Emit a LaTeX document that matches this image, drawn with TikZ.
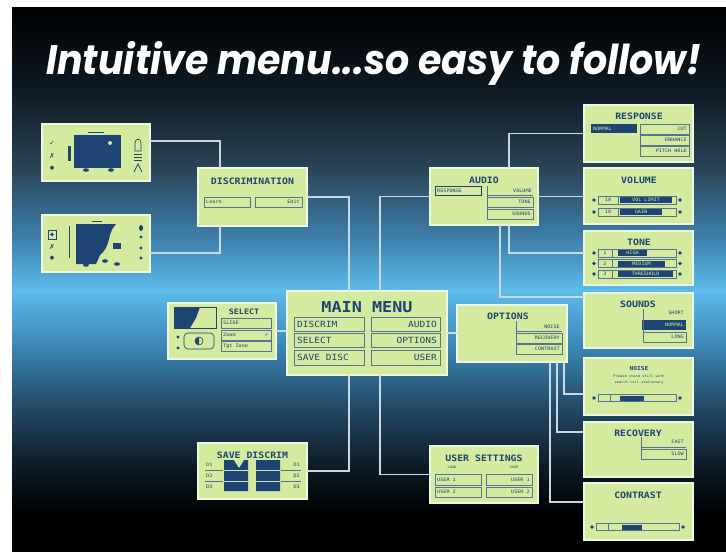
\documentclass[tikz,border=0pt]{standalone}
\usepackage{fontspec}
\usetikzlibrary{calc,fit}
\newfontfamily\lcdf{DejaVu Sans Mono}[FakeStretch=1.12]
\newfontfamily\titlef{Poppins}
\newfontfamily\symf{DejaVu Sans}
\definecolor{lcdg}{HTML}{D3EA9F}
\definecolor{lcdedge}{HTML}{EEF7E2}
\definecolor{navy}{HTML}{1E4473}
\definecolor{connc}{HTML}{CAD8E0}
\definecolor{bgB}{HTML}{101C26}
\definecolor{bgC}{HTML}{2A4658}
\definecolor{bgD}{HTML}{3F82AE}
\definecolor{bgE}{HTML}{5CBCEA}
\definecolor{bgF}{HTML}{3F8CBC}
\definecolor{bgG}{HTML}{24506E}
\definecolor{bgH}{HTML}{0E1C28}
\tikzset{
  lcd/.style={fill=lcdg, draw=lcdedge, line width=1.3pt, inner sep=0pt, outer sep=0pt},
  conn/.style={draw=connc, line width=1.4pt},
  ttl/.style={text=navy, inner sep=0pt, font=\lcdf\bfseries\fontsize{8.8}{8.8}\selectfont},
  sm/.style={text=navy, inner sep=0pt, font=\lcdf\fontsize{4.6}{4.6}\selectfont},
  tiny/.style={text=navy, inner sep=0pt, font=\lcdf\fontsize{3.3}{3.3}\selectfont},
  smw/.style={sm, text=lcdg},
  rowb/.style={draw=navy!75, line width=0.5pt},
  big/.style={text=navy, inner sep=0pt, font=\lcdf\bfseries\fontsize{15}{15}\selectfont},
  mid/.style={text=navy, inner sep=0pt, font=\lcdf\fontsize{8.5}{8.5}\selectfont},
  sym/.style={text=navy, inner sep=0pt, font=\symf\fontsize{7}{7}\selectfont},
}
\begin{document}
\begin{tikzpicture}[x=1pt,y=-1pt]
\useasboundingbox (0,0) rectangle (726,552);
\fill[white] (0,0) rectangle (726,552);
\fill[black] (12,7) rectangle (726,552);
% background gradient
\shade[top color=black, bottom color=bgB] (12,7) rectangle (726,95.5);
\shade[top color=bgB, bottom color=bgC] (12,95) rectangle (726,170.5);
\shade[top color=bgC, bottom color=bgD] (12,170) rectangle (726,240.5);
\shade[top color=bgD, bottom color=bgE] (12,240) rectangle (726,290.5);
\shade[top color=bgE, bottom color=bgF] (12,290) rectangle (726,340.5);
\shade[top color=bgF, bottom color=bgG] (12,340) rectangle (726,400.5);
\shade[top color=bgG, bottom color=bgH] (12,400) rectangle (726,465.5);
\shade[top color=bgH, bottom color=black] (12,465) rectangle (726,515.5);
\fill[black] (12,515) rectangle (726,552);

% title
\node[anchor=base west, inner sep=0pt, text=white] (title) at (46,74)
  {\resizebox{655pt}{33pt}{\titlef\bfseries\itshape Intuitive menu...so easy to follow!}};

% boxes
\node[lcd, fit={(42,124) (150,181)}] (tl1) {};
\node[lcd, fit={(42,215) (150,272)}] (tl2) {};
\node[lcd, fit={(198,168) (307,226)}] (disc) {};
\node[lcd, fit={(430,168) (538,225)}] (audio) {};
\node[lcd, fit={(584,105) (693,162)}] (resp) {};
\node[lcd, fit={(584,168) (693,224)}] (vol) {};
\node[lcd, fit={(584,231) (693,285)}] (tone) {};
\node[lcd, fit={(584,293) (693,348)}] (sounds) {};
\node[lcd, fit={(584,358) (693,415)}] (noise) {};
\node[lcd, fit={(584,422) (693,477)}] (recov) {};
\node[lcd, fit={(584,483) (693,540)}] (contr) {};
\node[lcd, fit={(287,291) (447,375)}] (main) {};
\node[lcd, fit={(168,303) (276,359)}] (select) {};
\node[lcd, fit={(457,305) (567,362)}] (options) {};
\node[lcd, fit={(198,443) (307,499)}] (savedisc) {};
\node[lcd, fit={(430,446) (538,503)}] (user) {};

% connectors
\draw[conn] ($(tl1.north east)+(0,17)$) -| ($(disc.north west)+(22,0)$);
\draw[conn] ($(tl2.north east)+(0,38)$) -| ($(disc.south west)+(22,0)$);
\draw[conn] (disc.east) -| ($(main.north west)+(62,0)$);
\draw[conn] ($(main.south west)+(62,0)$) |- (savedisc.east);
\draw[conn] (audio.west) -| ($(main.north west)+(93,0)$);
\draw[conn] ($(main.south west)+(93,0)$) |- (user.west);
\draw[conn] (select.east) -- (select.east -| main.west);
\draw[conn] (main.east) -- (main.east -| options.west);
\draw[conn] ($(audio.north west)+(79,0)$) |- (resp.west);
\draw[conn] (audio.east) -- (audio.east -| vol.west);
\draw[conn] ($(audio.south west)+(79,0)$) |- ($(tone.north west)+(0,22)$);
\draw[conn] ($(audio.south west)+(70,0)$) |- ($(sounds.north west)+(0,4)$);
\draw[conn] ($(options.south west)+(107,0)$) |- ($(noise.north west)+(0,36)$);
\draw[conn] ($(options.south west)+(100,0)$) |- ($(recov.north west)+(0,10)$);
\draw[conn] ($(options.south west)+(93,0)$) |- ($(contr.north west)+(0,19)$);

% ---- TL1 screen
\node[sym] (tl1a) at (52,143) {✓};
\node[sym] (tl1b) at (52,156) {✗};
\node[sym, font=\symf\fontsize{5}{5}\selectfont] (tl1c) at (52,168) {●};
\fill[navy] (68,146) rectangle (71,161);
\fill[navy] (74,135) rectangle (121,168);
\fill[lcdg] (110,143) circle[radius=2pt];
\draw[navy, line width=0.8pt] (88,132) -- (104,132);
\fill[navy] (86,170) ellipse[x radius=3pt, y radius=1.8pt];
\fill[navy] (111,170) ellipse[x radius=3pt, y radius=1.8pt];
\draw[navy, line width=0.7pt] (135,151) -- (135,143) .. controls (135,138) and (141,138) .. (141,143) -- (141,151) -- cycle;
\draw[navy, line width=0.6pt] (134,154) -- (142,154) (134,157) -- (142,157) (134,160) -- (142,160);
\draw[navy, line width=0.7pt] (134,172) -- (138,164) -- (142,172);

% ---- TL2 screen
\draw[navy, line width=0.6pt] (48,230) rectangle (56,239);
\fill[navy] (52,234.5) circle[radius=1.8pt];
\node[sym] (tl2b) at (52,247) {✗};
\node[sym, font=\symf\fontsize{5}{5}\selectfont] (tl2c) at (52,258) {●};
\draw[navy, line width=0.6pt] (69,226) -- (69,258);
\fill[navy] (76,224) -- (116,224) .. controls (106,235) and (112,245) .. (100,255) -- (96,264) -- (76,264) -- cycle;
\fill[navy] (113,243) rectangle (121,249);
\draw[navy, line width=0.8pt] (92,221) -- (102,221);
\fill[navy] (86,265) ellipse[x radius=3pt, y radius=1.8pt];
\fill[navy] (105,261) ellipse[x radius=3pt, y radius=1.8pt];
\fill[navy] (117,264) ellipse[x radius=3pt, y radius=1.8pt];
\fill[navy] (141,228) ellipse[x radius=2pt, y radius=3pt];
\fill[navy] (141,237) circle[radius=1.6pt];
\fill[navy] (141,248) circle[radius=1.6pt];
\fill[navy] (141,258) circle[radius=1.6pt];

% ---- DISCRIMINATION
\node[ttl] (discT) at (252.5,181) {DISCRIMINATION};
\draw[rowb] (204,197) rectangle (250,207) (255,197) rectangle (302,207);
\node[sm, anchor=west] (discL) at (206,202) {Learn};
\node[sm, anchor=east] (discE) at (300,202) {Edit};

% ---- AUDIO
\node[ttl] (audT) at (484,180) {AUDIO};
\draw[navy, line width=1pt] (435,186) rectangle (481,195);
\node[sm, anchor=west] (audR) at (437,190.5) {RESPONSE};
\draw[rowb] (487,186) -- (487,219) (487,195) -- (533,195) (487,197) rectangle (533,207) (487,209) rectangle (533,219);
\node[sm, anchor=east] (audV) at (532,190.5) {VOLUME};
\node[sm, anchor=east] (audTo) at (531,202) {TONE};
\node[sm, anchor=east] (audS) at (531,214) {SOUNDS};

% ---- RESPONSE
\node[ttl] (respT) at (639,116) {RESPONSE};
\fill[navy] (591,124) rectangle (637,133);
\node[smw, anchor=west] (respN) at (593,128.5) {NORMAL};
\draw[rowb] (640,124) rectangle (689,134) (640,135) rectangle (689,145) (640,146) rectangle (689,156);
\node[sm, anchor=east] (respC) at (687,129) {CUT};
\node[sm, anchor=east] (respE) at (687,140) {ENHANCE};
\node[sm, anchor=east] (respP) at (687,151) {PITCH HOLD};

% ---- VOLUME
\node[ttl] (volT) at (639,180) {VOLUME};
\foreach \yy/\xe/\lab [count=\i] in {200/672/VOL LIMIT, 212/662/GAIN}{
  \fill[navy] (594,\yy) circle[radius=1.8pt] (680,\yy) circle[radius=1.8pt];
  \draw[rowb] (598,\yy-4) rectangle (676,\yy+4) (618,\yy-4) -- (618,\yy+4);
  \node[sm] (volN\i) at (608,\yy) {10};
  \fill[navy] (620,\yy-3) rectangle (\xe,\yy+3);
  \node[smw] (volL\i) at ({(620+\xe)/2},\yy) {\lab};
}

% ---- TONE
\node[ttl] (toneT) at (639,242) {TONE};
\foreach \yy/\xe/\lab [count=\i] in {253/647/HIGH, 263.5/665/MEDIUM, 274/673/THRESHOLD}{
  \fill[navy] (594,\yy) circle[radius=1.8pt] (680,\yy) circle[radius=1.8pt];
  \draw[rowb] (598,\yy-4) rectangle (676,\yy+4) (612,\yy-4) -- (612,\yy+4);
  \node[sm] (toneN\i) at (605,\yy) {\i};
  \fill[navy] (618,\yy-3) rectangle (\xe,\yy+3);
  \node[smw] (toneL\i) at ({(618+\xe)/2},\yy) {\lab};
}

% ---- SOUNDS
\node[ttl] (sndT) at (638,304) {SOUNDS};
\node[sm, anchor=east] (sndS) at (684,313) {SHORT};
\fill[navy] (642,320) rectangle (686,330);
\node[smw, anchor=east] (sndN) at (684,325) {NORMAL};
\draw[rowb] (643,309) -- (643,342) (643,332) rectangle (686,342);
\node[sm, anchor=east] (sndL) at (684,337) {LONG};

% ---- NOISE
\node[ttl, font=\lcdf\bfseries\fontsize{5.5}{5.5}\selectfont] (noiT) at (639,368) {NOISE};
\node[tiny] (noi1) at (639,376) {Please stand still with};
\node[tiny] (noi2) at (639,382.5) {search coil stationary};
\fill[navy] (594,398) circle[radius=1.8pt] (680,398) circle[radius=1.8pt];
\draw[rowb] (598,394.5) rectangle (676,401.5) (610,394.5) -- (610,401.5);
\fill[navy] (620,395.5) rectangle (644,400.5);

% ---- RECOVERY
\node[ttl] (recT) at (638,433) {RECOVERY};
\draw[rowb] (641,437) -- (641,459) (641,447) -- (686,447) (641,449) rectangle (686,459);
\node[sm, anchor=east] (recF) at (684,442) {FAST};
\node[sm, anchor=east] (recS) at (684,454) {SLOW};

% ---- CONTRAST
\node[ttl] (conT) at (638,495) {CONTRAST};
\fill[navy] (592,527) circle[radius=1.8pt] (683,527) circle[radius=1.8pt];
\draw[rowb] (596,523.5) rectangle (679,530.5) (608,523.5) -- (608,530.5);
\fill[navy] (622,524.5) rectangle (642,529.5);

% ---- MAIN MENU
\node[big] (mmT) at (367,307) {MAIN MENU};
\draw[rowb, line width=0.7pt] (294,317) rectangle (364,331) (294,333) rectangle (364,347) (294,350) rectangle (364,365);
\draw[rowb, line width=0.7pt] (371,317) rectangle (440,331) (371,333) rectangle (440,347) (371,350) rectangle (440,365);
\node[mid, anchor=west] (mm1) at (297,324) {DISCRIM};
\node[mid, anchor=west] (mm2) at (297,340) {SELECT};
\node[mid, anchor=west] (mm3) at (297,357.5) {SAVE DISC};
\node[mid, anchor=east] (mm4) at (437,324) {AUDIO};
\node[mid, anchor=east] (mm5) at (437,340) {OPTIONS};
\node[mid, anchor=east] (mm6) at (437,357.5) {USER};

% ---- SELECT
\draw[navy, line width=0.6pt] (174,307) rectangle (216,328);
\fill[navy] (174,307) -- (200,307) -- (196,318) -- (190,328) -- (174,328) -- cycle;
\fill[navy] (178,337) circle[radius=1.6pt] (178,348) circle[radius=1.6pt];
\draw[navy, line width=0.6pt, rounded corners=4pt] (184,333) rectangle (214,349);
\draw[navy, line width=0.6pt] (199,341) circle[radius=4pt];
\fill[navy] (199,337) arc[start angle=90, end angle=270, radius=4pt] -- cycle;
\node[ttl, font=\lcdf\bfseries\fontsize{7.5}{7.5}\selectfont] (selT) at (244,312) {SELECT};
\draw[rowb] (221,318) rectangle (271,328) (221,330) rectangle (271,340) (221,341) rectangle (271,351);
\node[sm, anchor=west] (sel1) at (223,323) {SLIDE};
\node[sm, anchor=west] (sel2) at (223,335) {Zoom};
\node[sym, font=\symf\fontsize{5}{5}\selectfont] (sel2c) at (267,335) {✓};
\node[sm, anchor=west] (sel3) at (223,346) {Tgt Zone};

% ---- OPTIONS
\node[ttl] (optT) at (508,316) {OPTIONS};
\draw[rowb] (516,321) -- (516,354) (516,331) -- (562,331) (516,333) rectangle (562,343) (516,344) rectangle (562,354);
\node[sm, anchor=east] (opt1) at (560,326.5) {NOISE};
\node[sm, anchor=east] (opt2) at (560,338) {RECOVERY};
\node[sm, anchor=east] (opt3) at (560,349) {CONTRAST};

% ---- SAVE DISCRIM
\node[ttl] (sdT) at (252.5,455) {SAVE DISCRIM};
\fill[navy] (224,460) rectangle (248,491) (256,460) rectangle (280,491);
\fill[lcdg] (234,460) -- (244,460) -- (239,468) -- cycle;
\draw[lcdg, line width=0.6pt] (224,470.5) -- (248,470.5) (224,481) -- (248,481) (256,470.5) -- (280,470.5) (256,481) -- (280,481);
\draw[rowb] (205,470.5) -- (223,470.5) (205,481) -- (223,481) (281,470.5) -- (301,470.5) (281,481) -- (301,481);
\node[sm, anchor=west] (sd1) at (206,465) {D1};
\node[sm, anchor=west] (sd2) at (206,476) {D2};
\node[sm, anchor=west] (sd3) at (206,487) {D3};
\node[sm, anchor=east] (sd4) at (300,465) {D1};
\node[sm, anchor=east] (sd5) at (300,476) {D2};
\node[sm, anchor=east] (sd6) at (300,487) {D3};

% ---- USER SETTINGS
\node[ttl] (usT) at (484,458) {USER SETTINGS};
\node[tiny] (usL) at (452,467) {LOAD};
\node[tiny] (usS) at (514,467) {SAVE};
\draw[rowb] (435,474) rectangle (481,485) (435,487) rectangle (481,497) (486,474) rectangle (532,485) (486,487) rectangle (532,497);
\node[sm, anchor=west] (us1) at (437,479.5) {USER 1};
\node[sm, anchor=west] (us2) at (437,492) {USER 2};
\node[sm, anchor=east] (us3) at (530,479.5) {USER 1};
\node[sm, anchor=east] (us4) at (530,492) {USER 2};
\end{tikzpicture}
\end{document}
